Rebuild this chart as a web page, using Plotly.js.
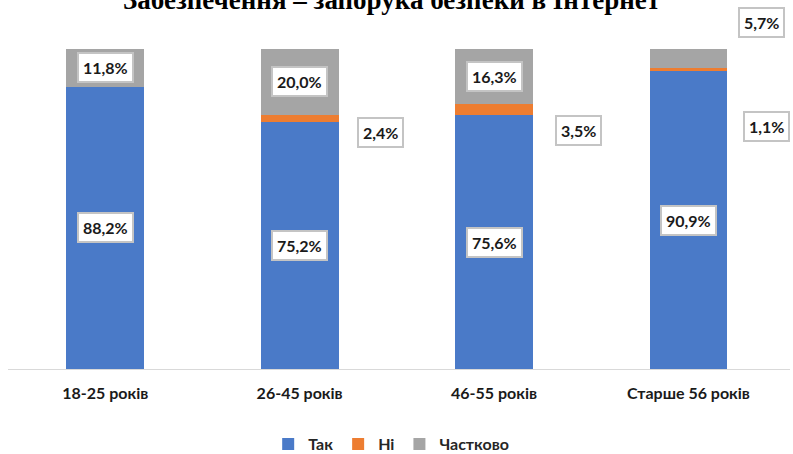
<!DOCTYPE html>
<html>
<head>
<meta charset="utf-8">
<script src="https://cdn.plot.ly/plotly-3.0.1.min.js"></script>
<style>html,body{margin:0;padding:0;background:#fff}#chart{width:793px;height:454px}</style>
</head>
<body>
<div id="chart"></div>
<script>
const categories = ['18-25 років', '26-45 років', '46-55 років', 'Старше 56 років'];
const seriesNames = ['Так', 'Ні', 'Частково'];
const tak = [88.2, 75.2, 75.6, 90.9];
const ni = [0, 2.4, 3.5, 1.1];
const chastkovo = [11.8, 20.0, 16.3, 5.7];
const titleText = 'Забезпечення – запорука безпеки в Інтернет';

const colors = ['#4A7AC8', '#ED7D31', '#A5A5A5'];
const series = [tak, ni, chastkovo];

const traces = series.map((vals, k) => ({
  type: 'bar',
  name: seriesNames[k],
  x: categories,
  y: vals,
  marker: {color: colors[k], line: {width: 0}},
  hoverinfo: 'none'
}));

const fmt = v => v.toFixed(1).replace('.', ',') + '%';
const fontFam = 'Lato, "Open Sans", sans-serif';
const labelFont = {family: fontFam, size: 16, color: '#1a1a1a', weight: 'bold'};

// per-label offsets (pixels) for manually placed labels: [series][category]
const shifts = [
  [[0,0],[0,0],[0,0],[0,0]],
  [[0,0],[81,-14],[84,-21],[78,-57]],
  [[0,0],[0,0],[0,0],[73,36]]
];

const annotations = [];
categories.forEach((c, i) => {
  const total = tak[i] + ni[i] + chastkovo[i];
  let base = 0;
  series.forEach((vals, k) => {
    const v = vals[i];
    if (v > 0) {
      const center = (base + v / 2) / total * 100;
      annotations.push({
        x: c, y: center, xref: 'x', yref: 'y',
        text: '<b>' + fmt(v) + '</b>',
        showarrow: false,
        font: labelFont,
        bgcolor: '#ffffff',
        bordercolor: '#c4c4c4',
        borderwidth: 2,
        borderpad: 4,
        xshift: shifts[k][i][0],
        yshift: shifts[k][i][1]
      });
    }
    base += v;
  });
});

annotations.push({
  text: '<b>' + titleText + '</b>',
  xref: 'paper', yref: 'paper',
  x: 0.4898, y: 1.0,
  xanchor: 'center', yanchor: 'bottom',
  yshift: 32,
  showarrow: false,
  font: {family: '"Liberation Serif", "Times New Roman", serif', size: 27, color: '#000000'}
});

const layout = {
  width: 793, height: 454,
  margin: {l: 8, r: 3, t: 49, b: 85, autoexpand: false},
  paper_bgcolor: '#ffffff', plot_bgcolor: '#ffffff',
  barmode: 'stack',
  barnorm: 'percent',
  bargap: 0.6,
  showlegend: true,
  legend: {
    orientation: 'h', x: 0.49, xanchor: 'center', y: -0.235, yanchor: 'middle',
    font: {family: fontFam, size: 16, color: '#262626', weight: 'bold'},
    itemwidth: 30, traceorder: 'normal'
  },
  xaxis: {
    type: 'category', automargin: false,
    showline: true, linecolor: '#d9d9d9', linewidth: 1,
    ticks: '', showgrid: false, zeroline: false,
    tickfont: {family: fontFam, size: 16, color: '#1a1a1a', weight: 'bold'},
    ticklabelstandoff: 10
  },
  yaxis: {
    range: [0, 100], visible: false, showgrid: false, zeroline: false, automargin: false
  },
  annotations: annotations
};

Plotly.newPlot('chart', traces, layout, {displayModeBar: false, staticPlot: true});
</script>
</body>
</html>
